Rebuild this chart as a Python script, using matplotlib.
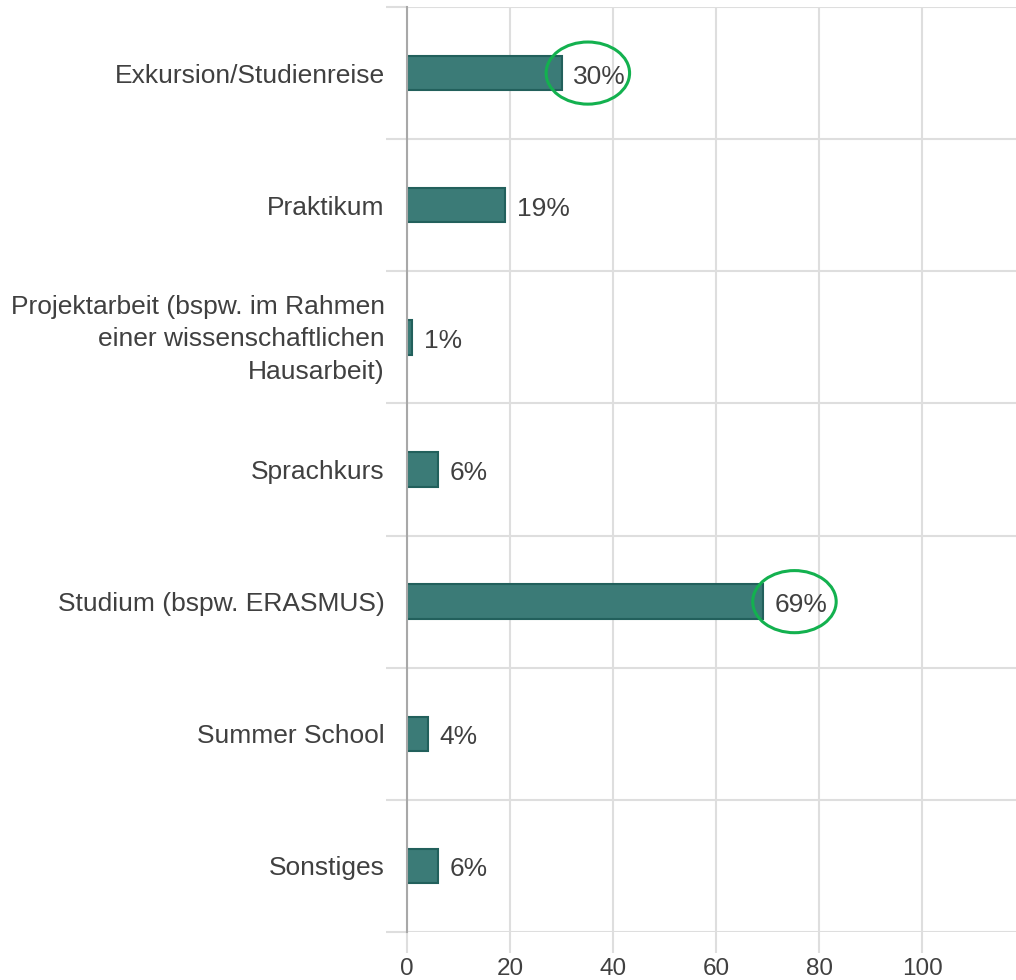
import matplotlib
matplotlib.use("Agg")
import matplotlib.pyplot as plt
from matplotlib.patches import Ellipse
from matplotlib.transforms import ScaledTranslation

categories = [
    "Exkursion/Studienreise",
    "Praktikum",
    "Projektarbeit (bspw. im Rahmen\neiner wissenschaftlichen\nHausarbeit)",
    "Sprachkurs",
    "Studium (bspw. ERASMUS)",
    "Summer School",
    "Sonstiges",
]
values = [30, 19, 1, 6, 69, 4, 6]
x_ticks = [0, 20, 40, 60, 80, 100]
highlighted = ["Exkursion/Studienreise", "Studium (bspw. ERASMUS)"]

plt.rcParams["font.family"] = ["Liberation Sans", "DejaVu Sans"]
text_col = "#404040"
grid_col = "#dedede"

fig = plt.figure(figsize=(10.16, 9.8), dpi=100)
ax = fig.add_axes([407 / 1016, 1 - 932 / 980, 1 - 407 / 1016, 925 / 980])

y = list(range(len(categories)))
ax.barh(y, values, height=0.26, color="#3b7b77", edgecolor="#22605c",
        linewidth=1.5, zorder=3)

for yi, v in zip(y, values):
    ax.annotate(f"{v}%", (v, yi), xytext=(8.5, -2.5), textcoords="offset points",
                va="center", ha="left", fontsize=19, color=text_col, zorder=4)

# green ellipses around the two highlighted labels
for name, shift in zip(highlighted, [5.1, 6.2]):
    i = categories.index(name)
    ell = Ellipse((values[i] + shift, i), width=16.2, height=0.47, fill=False,
                  edgecolor="#13b14f", linewidth=2.2, zorder=5, clip_on=False)
    ax.add_patch(ell)

ax.set_xlim(0, 118.2)
ax.set_ylim(6.5, -0.5)

ax.set_yticks(y)
ax.set_yticklabels(categories, fontsize=19, color=text_col, linespacing=1.45)
ax.set_yticks([i - 0.5 for i in range(len(categories) + 1)], minor=True)
ax.tick_params(axis="y", which="major", length=0, pad=16)
ax.tick_params(axis="y", which="minor", length=15, width=1.5, color=grid_col)
ax.grid(axis="y", which="minor", color=grid_col, linewidth=1.5, zorder=0)

# nudge the three-line label up a little
lbl = ax.get_yticklabels()[2]
lbl.set_transform(lbl.get_transform() + ScaledTranslation(0, 0.05, fig.dpi_scale_trans))

ax.set_xticks(x_ticks)
ax.set_xticklabels([str(t) for t in x_ticks], fontsize=17.5, color=text_col)
ax.tick_params(axis="x", length=15, width=1.5, color=grid_col, pad=4)
ax.grid(axis="x", which="major", color=grid_col, linewidth=1.5, zorder=0)
# the zero tick continues the darker axis line
ax.get_xticklines()[0].set_color("#a8a8a8")

for s in ["top", "right", "bottom"]:
    ax.spines[s].set_visible(False)
ax.spines["left"].set_color("#a8a8a8")
ax.spines["left"].set_linewidth(1.5)
ax.spines["left"].set_zorder(4)

fig.savefig("out.png", dpi=100, facecolor="white")
